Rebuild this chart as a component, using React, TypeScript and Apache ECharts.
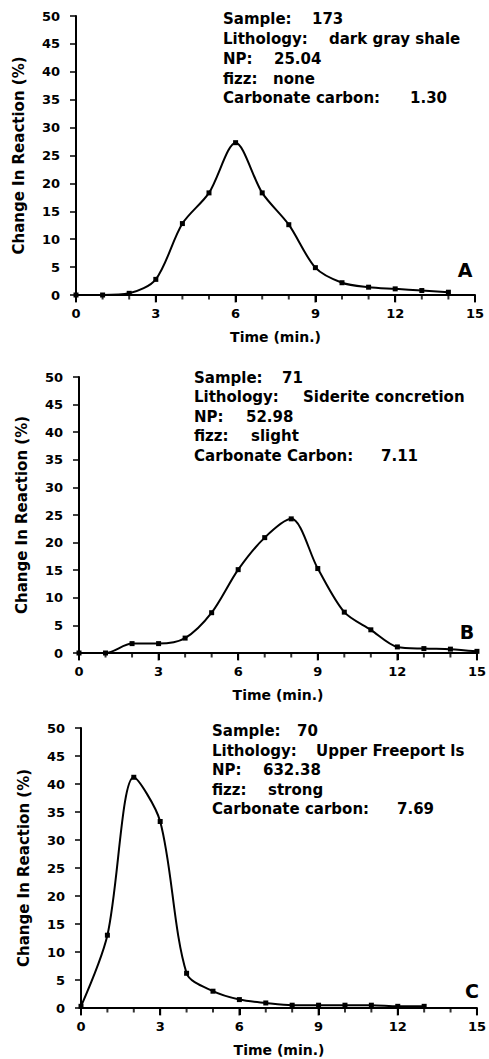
import React, { useEffect, useRef } from "react";
import * as echarts from "echarts";

// ---- data ----
const timeA = [0, 1, 2, 3, 4, 5, 6, 7, 8, 9, 10, 11, 12, 13, 14];
const reactionA = [0, 0, 0.3, 2.8, 12.8, 18.3, 27.3, 18.3, 12.6, 4.9, 2.2, 1.4, 1.1, 0.8, 0.5];

const timeB = [0, 1, 2, 3, 4, 5, 6, 7, 8, 9, 10, 11, 12, 13, 14, 15];
const reactionB = [0, 0, 1.7, 1.7, 2.7, 7.3, 15.1, 20.9, 24.3, 15.3, 7.4, 4.2, 1.1, 0.8, 0.7, 0.3];

const timeC = [0, 1, 2, 3, 4, 5, 6, 7, 8, 9, 10, 11, 12, 13];
const reactionC = [0.3, 13, 41.2, 33.3, 6.2, 3, 1.5, 0.9, 0.5, 0.5, 0.5, 0.5, 0.3, 0.3];

// time-axis tick positions (minutes)
const majorTimeTicks = [0, 3, 6, 9, 12, 15];
const minorTimeTicks = [1, 2, 4, 5, 7, 8, 10, 11, 13, 14];

const infoLabelsA = ["Sample:", "Lithology:", "NP:", "fizz:", "Carbonate carbon:"];
const infoValuesA = ["173", "dark gray shale", "25.04", "none", "1.30"];
const infoLabelsB = ["Sample:", "Lithology:", "NP:", "fizz:", "Carbonate Carbon:"];
const infoValuesB = ["71", "Siderite concretion", "52.98", "slight", "7.11"];
const infoLabelsC = ["Sample:", "Lithology:", "NP:", "fizz:", "Carbonate carbon:"];
const infoValuesC = ["70", "Upper Freeport ls", "632.38", "strong", "7.69"];
const panelLetters = ["A", "B", "C"];

const xAxisTitle = "Time (min.)";
const yAxisTitle = "Change In Reaction (%)";

const FONT = "DejaVu Sans";

// layout of each panel (pixels)
const panels = [
  {
    time: timeA, values: reactionA, labels: infoLabelsA, vals: infoValuesA,
    grid: { left: 76, top: 16, width: 399, height: 279 },
    infoX: 223, infoY: [19, 38.5, 58.5, 78.5, 98], valX: [312, 329, 274, 273, 410],
    letter: { x: 465, y: 270 },
  },
  {
    time: timeB, values: reactionB, labels: infoLabelsB, vals: infoValuesB,
    grid: { left: 79, top: 377, width: 400, height: 276 },
    infoX: 194, infoY: [378, 396.5, 416.5, 436, 455.5], valX: [282, 303, 246, 251, 381],
    letter: { x: 467, y: 632 },
  },
  {
    time: timeC, values: reactionC, labels: infoLabelsC, vals: infoValuesC,
    grid: { left: 81, top: 728, width: 400, height: 280 },
    infoX: 212, infoY: [731, 750.5, 770, 790, 809], valX: [297, 316, 263, 268, 397],
    letter: { x: 472, y: 991 },
  },
];

export default function App() {
  const ref = useRef<HTMLDivElement>(null);
  useEffect(() => {
    if (!ref.current) return;
    const chart = echarts.init(ref.current, undefined, { renderer: "svg" });
    const textStyleBase = { fontFamily: FONT, fontWeight: "bold" as const, color: "#000" };
    const grids = panels.map((p) => ({ ...p.grid, containLabel: false }));
    const xAxes = panels.map((_, i) => ({
      type: "value" as const,
      gridIndex: i,
      min: 0,
      max: 15,
      interval: 3,
      name: xAxisTitle,
      nameLocation: "middle" as const,
      nameGap: 35,
      nameTextStyle: { ...textStyleBase, fontSize: 14 },
      axisLine: { show: true, onZero: false, lineStyle: { color: "#000", width: 2 } },
      axisTick: { show: true, length: 7, lineStyle: { color: "#000", width: 2 } },
      axisLabel: { ...textStyleBase, fontSize: 13, margin: 12 },
      splitLine: { show: false },
    }));
    const yAxes = panels.map((_, i) => ({
      type: "value" as const,
      gridIndex: i,
      min: 0,
      max: 50,
      interval: 5,
      name: yAxisTitle,
      nameLocation: "middle" as const,
      nameGap: 50,
      nameTextStyle: { ...textStyleBase, fontSize: 15 },
      axisLine: { show: true, onZero: false, lineStyle: { color: "#000", width: 2 } },
      axisTick: { show: true, length: 6, lineStyle: { color: "#000", width: 1.5 } },
      axisLabel: { ...textStyleBase, fontSize: 13, margin: 16 },
      splitLine: { show: false },
    }));
    const series: any[] = [];
    panels.forEach((p, i) => {
      series.push({
        type: "line",
        xAxisIndex: i,
        yAxisIndex: i,
        data: p.time.map((t, k) => [t, p.values[k]]),
        smooth: 0.3,
        symbol: "rect",
        symbolSize: 5,
        showSymbol: true,
        itemStyle: { color: "#000" },
        lineStyle: { color: "#000", width: 2 },
        z: 3,
      });
      // time-axis tick marks below the axis line
      series.push({
        type: "scatter",
        xAxisIndex: i,
        yAxisIndex: i,
        data: majorTimeTicks.map((t) => [t, 0]),
        symbol: "rect",
        symbolSize: [2, 7],
        symbolOffset: [0, 4],
        itemStyle: { color: "#000" },
        clip: false,
        silent: true,
        z: 2,
      });
      series.push({
        type: "scatter",
        xAxisIndex: i,
        yAxisIndex: i,
        data: minorTimeTicks.map((t) => [t, 0]),
        symbol: "rect",
        symbolSize: [2, 4],
        symbolOffset: [0, 2.5],
        itemStyle: { color: "#000" },
        clip: false,
        silent: true,
        z: 2,
      });
    });
    const graphics: any[] = [];
    panels.forEach((p, i) => {
      p.labels.forEach((lab, k) => {
        graphics.push({
          type: "text", x: p.infoX, y: p.infoY[k],
          style: { text: lab, font: `bold 15px "${FONT}"`, fill: "#000", verticalAlign: "middle", align: "left" },
        });
        graphics.push({
          type: "text", x: p.valX[k], y: p.infoY[k],
          style: { text: p.vals[k], font: `bold 15px "${FONT}"`, fill: "#000", verticalAlign: "middle", align: "left" },
        });
      });
      graphics.push({
        type: "text", x: p.letter.x, y: p.letter.y,
        style: { text: panelLetters[i], font: `bold 19px "${FONT}"`, fill: "#000", verticalAlign: "middle", align: "center" },
      });
    });
    chart.setOption({
      animation: false,
      backgroundColor: "#fff",
      grid: grids,
      xAxis: xAxes,
      yAxis: yAxes,
      series,
      graphic: graphics,
    });
    return () => chart.dispose();
  }, []);
  return (
    <div
      ref={ref}
      style={{ position: "fixed", left: 0, top: 0, width: 489, height: 1059, background: "#fff" }}
    />
  );
}
